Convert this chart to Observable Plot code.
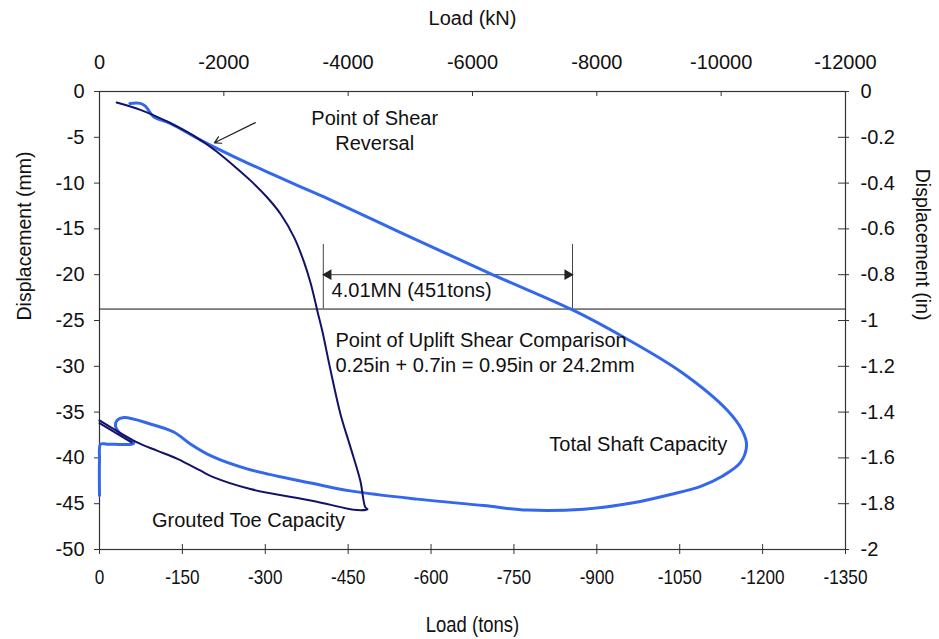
<!DOCTYPE html>
<html>
<head>
<meta charset="utf-8">
<script src="https://cdn.jsdelivr.net/npm/d3@7"></script>
<script src="https://cdn.jsdelivr.net/npm/@observablehq/plot@0.6"></script>
<style>
  html, body { margin: 0; padding: 0; background: #fff; }
</style>
</head>
<body>
<div id="chart"></div>
<script>
// Load (tons) and displacement (mm) of the total shaft load test
const shaftLoad = [-55, -74, -83, -98, -129, -183, -243, -304, -364, -413, -545, -708, -858, -948, -1052, -1136, -1163, -1171, -1160, -1127, -1088, -1033, -966, -876, -774, -695, -575, -454, -387, -267, -206, -165, -135, -92, -44, -32, -29, -38, -62, -14, -2, 0, 0];
const shaftDisp = [-1.3, -1.3, -1.6, -2.75, -3.5, -5.3, -7.1, -8.8, -10.4, -11.7, -15.4, -19.9, -23.9, -26.8, -30.6, -34.8, -37.0, -38.6, -40.5, -42.0, -43.1, -44.0, -44.9, -45.6, -45.7, -45.2, -44.5, -43.6, -42.8, -41.2, -39.9, -38.5, -37.2, -36.3, -35.6, -35.9, -36.5, -37.4, -38.4, -38.5, -38.5, -40.3, -44.1];

// Load (tons) and displacement (mm) of the grouted toe test
const toeLoad = [-31, -74, -123, -183, -213, -243, -273, -304, -328, -352, -370, -382, -391, -394, -403, -418, -436, -454, -472, -481, -485, -466, -387, -273, -206, -183, -141, -104, -68, 0];
const toeDisp = [-1.2, -2.0, -3.3, -5.3, -6.6, -8.1, -9.7, -11.6, -13.4, -15.9, -18.6, -20.9, -23.1, -23.9, -26.1, -30.4, -35.2, -38.8, -42.5, -45.4, -45.6, -45.7, -44.7, -43.4, -42.1, -41.4, -40.1, -39.2, -38.3, -35.9];
const toeLoad2 = [0, -58];
const toeDisp2 = [-36.2, -38.3];

// Axis ticks
const tonTicks = [0, -150, -300, -450, -600, -750, -900, -1050, -1200, -1350];
const kNTicks = [0, -2000, -4000, -6000, -8000, -10000, -12000];
const mmTicks = [0, -5, -10, -15, -20, -25, -30, -35, -40, -45, -50];
const inTicks = [0, -0.2, -0.4, -0.6, -0.8, -1, -1.2, -1.4, -1.6, -1.8, -2];

// Secondary axis scalings: 1350 tons spans 12000 kN, 2 in spans 50 mm
const tonsPerKN = 1350 / 12000;
const mmPerIn = 50 / 2;

// Uplift shear comparison: 0.95 in, and 451 tons measured between the curves
const comparisonIn = -0.95;
const compStart = -405;
const compSpan = 451;
const compEnd = compStart - compSpan;

const shaft = shaftLoad.map((x, i) => ({x, y: shaftDisp[i]}));
const toe = toeLoad.map((x, i) => ({x, y: toeDisp[i]}));
const toe2 = toeLoad2.map((x, i) => ({x, y: toeDisp2[i]}));

const font = "Liberation Sans, Arial, Helvetica, sans-serif";
const narrow = "Liberation Sans Narrow, Arial Narrow, Liberation Sans, Arial, sans-serif";
const ink = "#111";
const axisInk = "#333";
const fs = 20;
const W = 939, H = 639;
const mL = 99, mR = 94, mT = 91, mB = 90;
const frameW = W - mL - mR, frameH = H - mT - mB;
const hyphen = d => String(d);

const compY = comparisonIn * mmPerIn;
const compMN = (compSpan / tonsPerKN / 1000).toFixed(2);

const chart = Plot.plot({
  width: W,
  height: H,
  marginLeft: mL,
  marginRight: mR,
  marginTop: mT,
  marginBottom: mB,
  style: {fontFamily: font, fontSize: fs + "px", color: ink, background: "#fff"},
  x: {domain: [0, -1350]},
  y: {domain: [-50, 0]},
  marks: [
    // axes
    Plot.axisX({anchor: "bottom", ticks: tonTicks, tickFormat: hyphen, tickSize: 5, tickPadding: 15,
      label: null, fontFamily: narrow, fontSize: 20, stroke: axisInk, fill: ink}),
    Plot.tickX(tonTicks, {x: d => d, insetTop: frameH - 5, stroke: axisInk}),
    Plot.axisX({anchor: "top", ticks: kNTicks.map(k => k * tonsPerKN),
      tickFormat: t => String(Math.round(t / tonsPerKN)), tickSize: 0, tickPadding: 23,
      label: null, fontSize: fs, fill: ink}),
    Plot.tickX(kNTicks.map(k => k * tonsPerKN), {x: d => d, insetBottom: frameH - 5, stroke: axisInk}),
    Plot.axisY({anchor: "left", ticks: mmTicks, tickFormat: hyphen, tickSize: 5, tickPadding: 10,
      label: null, fontSize: fs, stroke: axisInk, fill: ink}),
    Plot.axisY({anchor: "right", ticks: inTicks.map(v => v * mmPerIn),
      tickFormat: m => String(+(m / mmPerIn).toFixed(1)), tickSize: 3, tickPadding: 12,
      label: null, fontSize: fs, stroke: axisInk, fill: ink}),
    Plot.tickY(inTicks.map(v => v * mmPerIn), {y: d => d, insetLeft: frameW - 7, stroke: axisInk}),
    Plot.frame({stroke: axisInk, strokeWidth: 1.2}),

    // axis titles
    Plot.text(["Load (kN)"], {frameAnchor: "top", dy: -81, fontSize: fs, fill: ink}),
    Plot.text(["Load (tons)"], {frameAnchor: "bottom", dy: 82, fontSize: 21.5, fontFamily: narrow, fill: ink}),
    Plot.text(["Displacement (mm)"], {frameAnchor: "left", dx: -75, rotate: -90, fontSize: 19.5, fill: ink}),
    Plot.text(["Displacement (in)"], {frameAnchor: "right", dx: 77, rotate: 90, fontSize: 19.5, fill: ink}),

    // uplift shear comparison level
    Plot.ruleY([compY], {stroke: "#111", strokeWidth: 1}),
    Plot.ruleX([compStart, compEnd], {x: d => d, y1: -16.7, y2: compY, stroke: "#444", strokeWidth: 1}),
    Plot.link([{a: compStart, b: compEnd}], {x1: "a", x2: "b", y1: -20, y2: -20, stroke: "#444", strokeWidth: 1}),
    Plot.dot([compStart], {x: d => d, y: -20, symbol: "triangle", r: 4, rotate: -90, dx: 5, fill: "#222", stroke: null}),
    Plot.dot([compEnd], {x: d => d, y: -20, symbol: "triangle", r: 4, rotate: 90, dx: -5, fill: "#222", stroke: null}),

    // test curves
    Plot.line(shaft, {x: "x", y: "y", stroke: "#3468ec", strokeWidth: 3, curve: "catmull-rom"}),
    Plot.line(toe, {x: "x", y: "y", stroke: "#12126a", strokeWidth: 2, curve: "catmull-rom"}),
    Plot.line(toe2, {x: "x", y: "y", stroke: "#12126a", strokeWidth: 2}),

    // annotations
    Plot.arrow([{x1: -282, y1: -3.4, x2: -208, y2: -5.6}], {x1: "x1", y1: "y1", x2: "x2", y2: "y2",
      stroke: "#222", strokeWidth: 1.2, headLength: 9}),
    Plot.text(["Point of Shear"], {x: -498, y: -3.0, fontSize: fs, fill: ink}),
    Plot.text(["Reversal"], {x: -498, y: -5.7, fontSize: fs, fill: ink}),
    Plot.text([`${compMN}MN (${compSpan}tons)`], {x: -420, y: -21.7, textAnchor: "start", fontSize: fs, fill: ink}),
    Plot.text(["Point of Uplift Shear Comparison"], {x: -427, y: -27.2, textAnchor: "start", fontSize: fs, fill: ink}),
    Plot.text(["0.25in + 0.7in = 0.95in or 24.2mm"], {x: -427, y: -29.9, textAnchor: "start", fontSize: fs, fill: ink}),
    Plot.text(["Total Shaft Capacity"], {x: -814, y: -38.6, textAnchor: "start", fontSize: fs, fill: ink}),
    Plot.text(["Grouted Toe Capacity"], {x: -95, y: -46.8, textAnchor: "start", fontSize: fs, fill: ink})
  ]
});
document.getElementById("chart").appendChild(chart);

// The bottom (tons) axis is set in a condensed face; squeeze its glyphs horizontally
const condensed = 0.86;
chart.querySelectorAll("text").forEach(t => {
  if (t.getBoundingClientRect().top > H - mB) {
    const tr = t.getAttribute("transform") || "";
    t.setAttribute("transform", `${tr} scale(${condensed},1)`.trim());
  }
});
</script>
</body>
</html>
